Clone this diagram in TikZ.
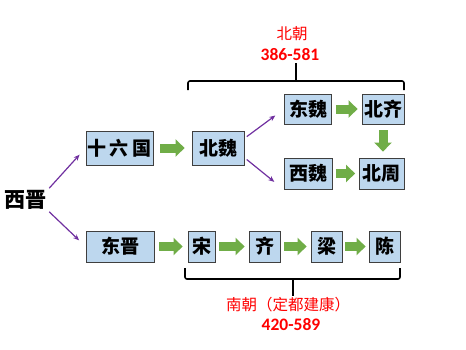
\documentclass[tikz,border=0pt]{standalone}
\usepackage{fontspec}
\setmainfont{Carlito}
\newfontfamily\cjk{Noto Sans CJK SC}
\usetikzlibrary{arrows.meta}
\definecolor{boxfill}{HTML}{BDD7EE}
\definecolor{boxline}{HTML}{3F3F3F}
\definecolor{garrow}{HTML}{70AD47}
\definecolor{parrow}{HTML}{7030A0}
\definecolor{redtxt}{HTML}{FF0000}
\begin{document}
\begin{tikzpicture}[x=1pt,y=-1pt,
  box/.style={draw=boxline,line width=0.8pt,fill=boxfill,inner sep=0pt,
    minimum height=31pt,font=\cjk\bfseries\fontsize{19}{19}\selectfont},
  garr/.style={garrow,line width=9pt,-{Triangle[width=17pt,length=9pt]},shorten <=#1,shorten >=#1},
  parr/.style={parrow,line width=1.2pt,-{Stealth[length=6pt,width=5pt]}},
  brace/.style={black,line width=1.6pt,rounded corners=2pt},
  redlab/.style={text=redtxt,inner sep=0pt}]
\useasboundingbox (0,0) rectangle (466,349);
% nodes
\node[inner sep=2pt,font=\cjk\bfseries\fontsize{21}{21}\selectfont] (xj) at (26,200) {西晋};
\node[box,minimum width=67pt,minimum height=34pt] (sl) at (119.5,148) {十\,六\,国};
\node[box,minimum width=52pt,minimum height=34pt] (bw) at (218,148) {北魏};
\node[box,minimum width=47pt,minimum height=30pt] (dw) at (308,109) {东魏};
\node[box,minimum width=42pt,minimum height=30pt] (bq) at (383,109) {北齐};
\node[box,minimum width=48pt] (xw) at (308,173.5) {西魏};
\node[box,minimum width=45pt] (bz) at (381.5,173.5) {北周};
\node[box,minimum width=68pt] (dj) at (120,246.5) {东晋};
\node[box,minimum width=27pt] (song) at (201.5,246.5) {宋};
\node[box,minimum width=31pt] (qi) at (264.5,246.5) {齐};
\node[box,minimum width=31pt] (liang) at (326.5,246.5) {梁};
\node[box,minimum width=31pt] (chen) at (384.5,246.5) {陈};
% labels
\node[redlab,font=\cjk\fontsize{15.5}{15.5}\selectfont] (bc) at (292,34) {北朝};
\node[redlab,font=\bfseries\fontsize{17.5}{17.5}\selectfont] (bcy) at (290,55) {386-581};
\node[redlab,font=\cjk\fontsize{15.5}{15.5}\selectfont] (nc) at (288,305) {南朝（定都建康）};
\node[redlab,font=\bfseries\fontsize{17.5}{17.5}\selectfont] (ncy) at (291,325) {420-589};
% purple arrows
\draw[parr,shorten >=9pt] (xj.north east) -- (sl.west);
\draw[parr,shorten >=9pt] (xj.south east) -- (dj.west);
\draw[parr,shorten <=3pt,shorten >=11pt] (bw.20) -- (dw.west);
\draw[parr,shorten <=3pt,shorten >=12pt] (bw.-20) -- (xw.south west);
% green arrows
\draw[garr=7pt] (sl) -- (bw);
\draw[garr=4pt] (dw) -- (bq);
\draw[garr=3.5pt] (xw) -- (bz);
\draw[garr=6pt] (bq.south) -- (bq.south |- bz.north);
\draw[garr=5pt] (dj) -- (song);
\draw[garr=4pt] (song) -- (qi);
\draw[garr=4pt] (qi) -- (liang);
\draw[garr=3pt] (liang) -- (chen);
% braces
\draw[brace] (188,90) -- (188,81) -- (404,81) -- (404,90);
\draw[brace] (296,81) -- (296,63);
\draw[brace] (185,268) -- (185,279) -- (400,279) -- (400,268);
\draw[brace] (293,279) -- (293,296);
\end{tikzpicture}
\end{document}
